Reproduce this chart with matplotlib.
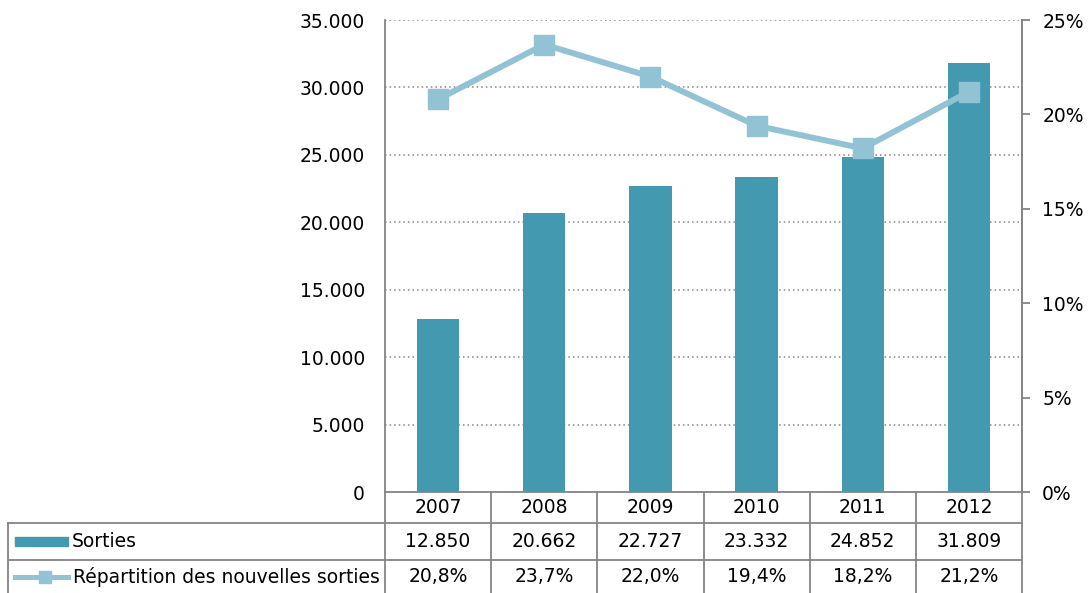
import numpy as np
import matplotlib.pyplot as plt
import matplotlib.transforms as mtransforms
from matplotlib.lines import Line2D
from matplotlib.patches import Rectangle

years = ["2007", "2008", "2009", "2010", "2011", "2012"]
sorties = [12850, 20662, 22727, 23332, 24852, 31809]
repartition = [20.8, 23.7, 22.0, 19.4, 18.2, 21.2]
series_names = ["Sorties", "Répartition des nouvelles sorties"]

bar_color = "#4399B0"
line_color = "#92C3D5"
grid_color = "#858585"
fs = 13.5

def fmt_thousands(v):
    return f"{int(round(v)):,}".replace(",", ".")

def fmt_pct(v):
    return f"{v:.1f}%".replace(".", ",")

W, H = 1091, 593
fig = plt.figure(figsize=(W / 100, H / 100), dpi=100)
ax = fig.add_axes([385 / W, 101 / H, 637 / W, 472 / H])

x = np.arange(len(years))
ax.bar(x, sorties, width=0.4, color=bar_color, zorder=2)
ax.set_xlim(-0.5, len(years) - 0.5)
ax.set_ylim(0, 35000)
ax.set_yticks(np.arange(0, 35001, 5000))
ax.yaxis.set_major_formatter(lambda v, p: fmt_thousands(v))
ax.tick_params(axis="y", length=0, pad=14.5, labelsize=fs)
ax.set_xticks([])
ax.grid(axis="y", linestyle=(0, (1, 2)), color=grid_color, lw=1.1)
ax.set_axisbelow(True)
ax.spines["top"].set_visible(False)
for s in ("left", "right", "bottom"):
    ax.spines[s].set_color(grid_color)
    ax.spines[s].set_linewidth(1.3)

ax2 = ax.twinx()
ax2.plot(x, repartition, color=line_color, lw=4.3, marker="s", ms=14.5,
         markeredgecolor=line_color, zorder=3)
ax2.set_ylim(0, 25)
ax2.set_yticks(range(0, 26, 5))
ax2.yaxis.set_major_formatter(lambda v, p: f"{int(v)}%")
ax2.tick_params(axis="y", length=5.5, width=1.3, color=grid_color, pad=9, labelsize=fs)
for s in ("top", "left", "bottom"):
    ax2.spines[s].set_visible(False)
ax2.spines["right"].set_color(grid_color)
ax2.spines["right"].set_linewidth(1.3)

# data table under the plot
px = lambda p: (p - 385) / 637          # figure pixel x -> axes x
row = lambda p: -(p - 492) / 472        # figure pixel y -> axes y
blend = mtransforms.blended_transform_factory(ax.transData, ax.transAxes)
kw = dict(color=grid_color, lw=1.3, clip_on=False)

for yy, x0 in ((523, 8), (560, 8)):
    ax.add_line(Line2D([px(x0), 1], [row(yy), row(yy)], transform=ax.transAxes, **kw))
ax.add_line(Line2D([px(8), px(8)], [row(523), row(600)], transform=ax.transAxes, **kw))
for b in np.arange(len(years) + 1) - 0.5:
    ax.add_line(Line2D([b, b], [0, row(600)], transform=blend, **kw))

for i, yr in enumerate(years):
    ax.text(i, row(507.5), yr, transform=blend, ha="center", va="center", fontsize=fs)
    ax.text(i, row(541.5), fmt_thousands(sorties[i]), transform=blend,
            ha="center", va="center", fontsize=fs)
    ax.text(i, row(577), fmt_pct(repartition[i]), transform=blend,
            ha="center", va="center", fontsize=fs)

# legend keys in the first column
ax.add_patch(Rectangle((px(15), row(546)), px(68) - px(15), row(537) - row(546),
                       transform=ax.transAxes, color=bar_color, clip_on=False))
ax.add_line(Line2D([px(15), px(68)], [row(577), row(577)], transform=ax.transAxes,
                   color=line_color, lw=3.6, clip_on=False))
ax.add_line(Line2D([px(45)], [row(577)], transform=ax.transAxes, marker="s", ms=8,
                   color=line_color, clip_on=False))
ax.text(px(72), row(541.5), series_names[0], transform=ax.transAxes,
        ha="left", va="center", fontsize=fs)
ax.text(px(73), row(577), series_names[1], transform=ax.transAxes,
        ha="left", va="center", fontsize=fs)

fig.savefig("out.png", dpi=100)
